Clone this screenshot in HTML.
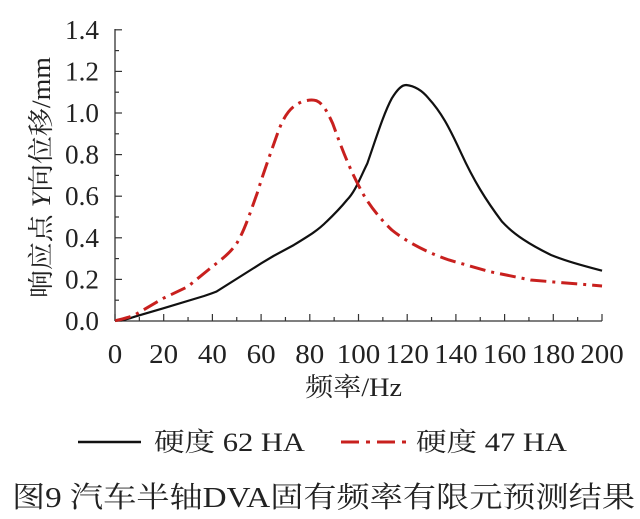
<!DOCTYPE html>
<html><head><meta charset="utf-8"><style>
html,body{margin:0;padding:0;background:#fff;}
svg{display:block;}
text{font-family:"Liberation Serif","Noto Serif CJK SC",serif;fill:#222;}
</style></head><body>
<svg width="640" height="519" viewBox="0 0 640 519" xmlns="http://www.w3.org/2000/svg">
<g stroke="#333" stroke-width="1.3" fill="none">
<line x1="115" y1="29" x2="115" y2="321"/>
<line x1="115" y1="321" x2="602" y2="321"/>
</g>
<g id="xt" stroke="#333" stroke-width="1.2"></g>
<g id="yt" stroke="#333" stroke-width="1.2"></g>
<g id="xl" font-size="27"></g>
<g id="yl" font-size="27" text-anchor="end"></g>
<g transform="scale(0.40816,0.33333)">
<path vector-effect="non-scaling-stroke" fill="none" stroke="#111" stroke-width="2.2" d="M282,962 C300,962 310,958 330,950 L400,925 L500,888 C515,882 520,880 530,875 L640,790 L670,768 L720,735 C760,705 780,690 800,665 C830,630 840,615 850,600 C870,575 880,540 900,490 C920,420 940,340 960,295 C975,265 985,255 995,255 C1010,257 1030,265 1050,295 C1080,335 1100,380 1130,460 C1160,540 1190,600 1230,665 C1260,705 1300,735 1350,765 C1400,790 1440,800 1475,812"/>
<path vector-effect="non-scaling-stroke" fill="none" stroke="#c8201e" stroke-width="3" stroke-dasharray="16,6,3,6" d="M282,962 C300,958 315,952 330,945 L400,895 L460,860 L510,810 C540,780 560,765 580,730 C600,690 615,630 630,580 C645,520 660,470 680,400 C695,350 710,320 740,305 C755,300 765,298 775,302 C790,310 800,330 815,370 C830,420 850,490 880,560 C900,610 930,655 960,690 C990,720 1040,755 1100,780 L1200,815 L1300,840 L1475,858"/>
</g>
<text x="305" y="396" font-size="26" textLength="97" lengthAdjust="spacingAndGlyphs">频率/Hz</text>
<text transform="translate(50,298) rotate(-90)" font-size="26" textLength="241" lengthAdjust="spacingAndGlyphs">响应点 <tspan font-style="italic">Y</tspan>向位移/mm</text>
<line x1="78" y1="442" x2="141" y2="442" stroke="#111" stroke-width="2.4"/>
<text x="154" y="451" font-size="26" textLength="151" lengthAdjust="spacingAndGlyphs">硬度 62 HA</text>
<line x1="341" y1="442" x2="406" y2="442" stroke="#c8201e" stroke-width="3" stroke-dasharray="18,7,4,7"/>
<text x="416" y="451" font-size="26" textLength="151" lengthAdjust="spacingAndGlyphs">硬度 47 HA</text>
<text x="12" y="507" font-size="29" textLength="623" lengthAdjust="spacingAndGlyphs">图9  汽车半轴DVA固有频率有限元预测结果</text>
</svg>
<script>
var ns="http://www.w3.org/2000/svg";
function el(p,t,a,txt){var e=document.createElementNS(ns,t);for(var k in a)e.setAttribute(k,a[k]);if(txt!=null)e.textContent=txt;document.getElementById(p).appendChild(e);}
for(var i=0;i<=20;i++){var x=115+i*24.35;var L=i%2==0?7:4;el("xt","line",{x1:x,y1:321,x2:x,y2:321-L});
if(i%2==0){var v=String(i*10);el("xl","text",{x:x,y:363,"text-anchor":"middle",textLength:v.length*14.5,lengthAdjust:"spacingAndGlyphs"},v);}}
for(var j=0;j<=14;j++){var y=321-j*20.8;var L=j%2==0?7:4;el("yt","line",{x1:115,y1:y,x2:115+L,y2:y});
if(j%2==0){el("yl","text",{x:99,y:y+9,textLength:34,lengthAdjust:"spacingAndGlyphs"},(j/10).toFixed(1));}}
</script>
</body></html>
